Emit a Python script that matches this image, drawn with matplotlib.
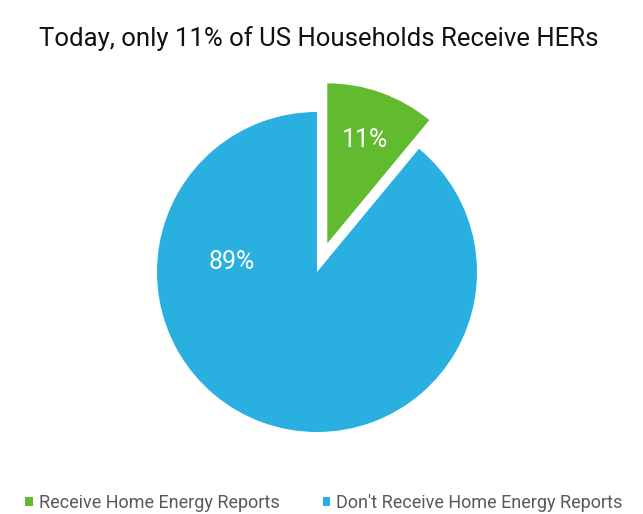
import matplotlib
matplotlib.use("Agg")
import matplotlib.pyplot as plt
import matplotlib.patches as mpatches

plt.rcParams["font.family"] = ["Roboto", "DejaVu Sans"]

title = "Today, only 11% of US Households Receive HERs"
labels = ["Receive Home Energy Reports", "Don't Receive Home Energy Reports"]
shares = [11, 89]
colors = ["#62BB2E", "#2AB0E0"]
explode = [0.19, 0.0]

fig = plt.figure(figsize=(6.43, 5.14), dpi=100)
ax = fig.add_axes([77 / 643, 2 / 514, 480 / 643, 480 / 514])

wedges, texts, autotexts = ax.pie(
    shares,
    colors=colors,
    explode=explode,
    startangle=90,
    counterclock=False,
    autopct="%d%%",
    pctdistance=0.69,
    textprops=dict(color="white", fontsize=18),
    wedgeprops=dict(linewidth=0),
)
# the big slice's label sits to the left of centre
autotexts[1].set_position((-0.53, 0.065))

ax.set_xlim(-1.5, 1.5)
ax.set_ylim(-1.5, 1.5)
ax.set_aspect("equal")
ax.axis("off")

fig.text(0.496, 1 - 39 / 514, title, ha="center", va="center",
         fontsize=18.5, color="#111111")

handles = [mpatches.Patch(facecolor=c, edgecolor="none", label=l)
           for c, l in zip(colors, labels)]
fig.legend(
    handles=handles,
    loc="center",
    bbox_to_anchor=(324 / 643, 1 - 503 / 514),
    ncol=2,
    frameon=False,
    fontsize=13,
    labelcolor="#595959",
    handlelength=0.42,
    handleheight=0.42,
    handletextpad=0.35,
    columnspacing=2.37,
)

fig.savefig("out.png", dpi=100)
